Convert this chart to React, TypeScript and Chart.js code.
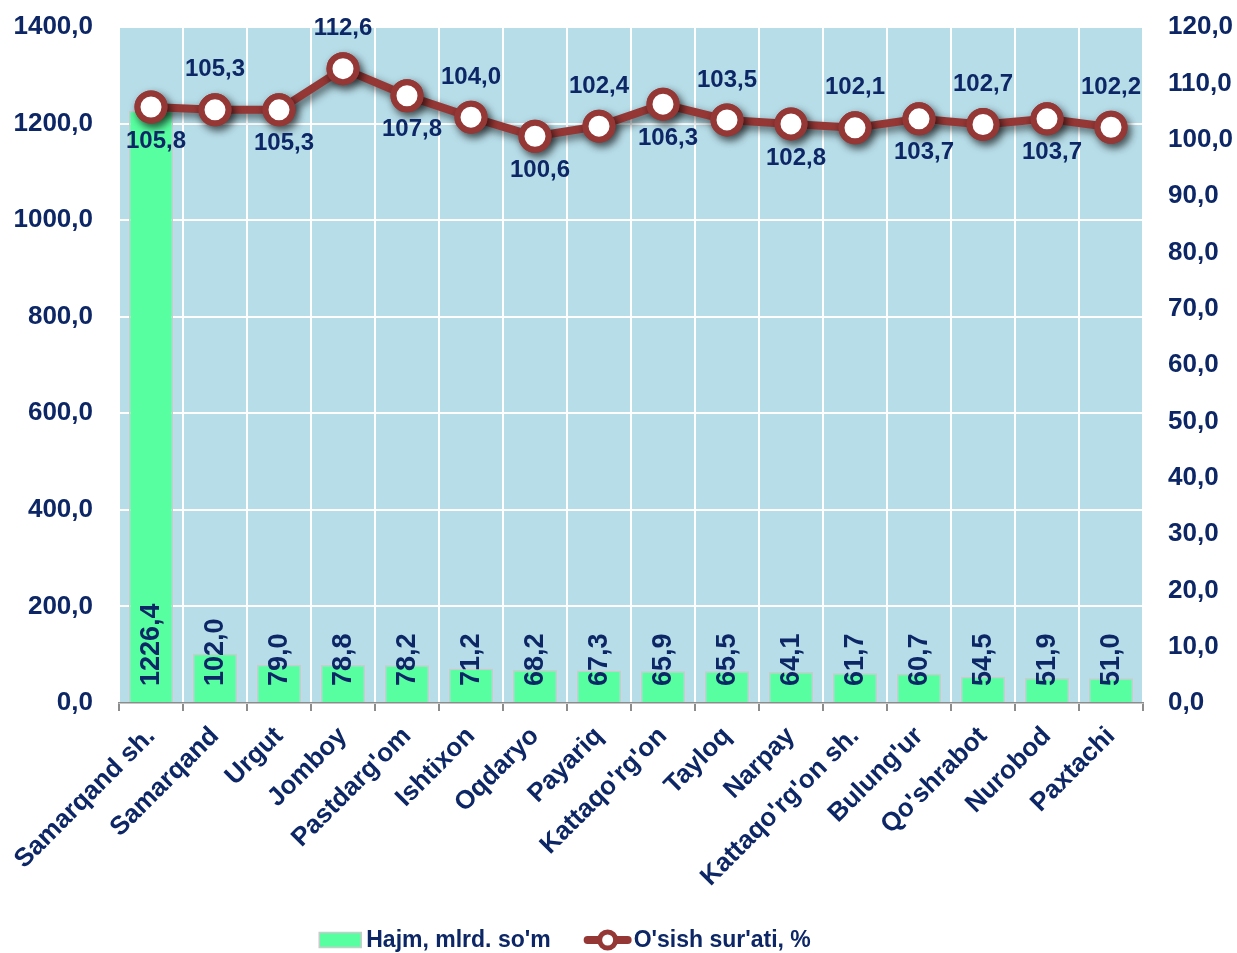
import React, { useEffect, useRef } from "react";
import { Chart, registerables } from "chart.js";

Chart.register(...registerables);

const categories = [
  "Samarqand sh.", "Samarqand", "Urgut", "Jomboy", "Pastdarg'om", "Ishtixon", "Oqdaryo",
  "Payariq", "Kattaqo'rg'on", "Tayloq", "Narpay", "Kattaqo'rg'on sh.", "Bulung'ur",
  "Qo'shrabot", "Nurobod", "Paxtachi",
];
const volumeValues = [1226.4, 102.0, 79.0, 78.8, 78.2, 71.2, 68.2, 67.3, 65.9, 65.5, 64.1, 61.7, 60.7, 54.5, 51.9, 51.0];
const growthValues = [105.8, 105.3, 105.3, 112.6, 107.8, 104.0, 100.6, 102.4, 106.3, 103.5, 102.8, 102.1, 103.7, 102.7, 103.7, 102.2];
const volumeLabel = "Hajm, mlrd. so'm";
const growthLabel = "O'sish sur'ati, %";

const FONT = "'Liberation Sans', Arial, sans-serif";
const TEXT = "#0d2766";
const BAR = "#57ffa0";
const BAR_BORDER = "#c9cccc";
const LINE = "#953735";
const PLOT_BG = "#b7dde8";

const fmt = (v: number) => v.toFixed(1).replace(".", ",");

const bgPlugin = {
  id: "plotBg",
  beforeDraw(chart: any) {
    const { ctx, chartArea } = chart;
    ctx.save();
    ctx.fillStyle = "#ffffff";
    ctx.fillRect(0, 0, chart.width, chart.height);
    ctx.fillStyle = PLOT_BG;
    ctx.fillRect(chartArea.left, chartArea.top, chartArea.right - chartArea.left, chartArea.bottom - chartArea.top);
    ctx.restore();
  },
};

const shadowPlugin = {
  id: "lineShadow",
  beforeDatasetDraw(chart: any, args: any) {
    if (chart.data.datasets[args.index].type === "line") {
      const ctx = chart.ctx;
      ctx.save();
      ctx.shadowColor = "rgba(0,0,0,0.6)";
      ctx.shadowBlur = 9;
      ctx.shadowOffsetX = 3;
      ctx.shadowOffsetY = 4;
    }
  },
  afterDatasetDraw(chart: any, args: any) {
    if (chart.data.datasets[args.index].type === "line") {
      const ctx = chart.ctx;
      ctx.restore();
      args.meta.data.forEach((el: any) => el.draw(ctx, chart.chartArea));
    }
  },
};

const labelPlugin = {
  id: "valueLabels",
  afterDatasetsDraw(chart: any) {
    const ctx = chart.ctx;
    const yBase = chart.scales.y.getPixelForValue(0);
    const barMeta = chart.getDatasetMeta(1);
    ctx.save();
    ctx.fillStyle = TEXT;
    ctx.font = `bold 27px ${FONT}`;
    ctx.textBaseline = "middle";
    ctx.textAlign = "left";
    barMeta.data.forEach((el: any, i: number) => {
      ctx.save();
      ctx.translate(el.x, yBase - 17);
      ctx.rotate(-Math.PI / 2);
      ctx.fillText(fmt(volumeValues[i]), 0, 1);
      ctx.restore();
    });
    const lineMeta = chart.getDatasetMeta(0);
    ctx.font = `bold 24px ${FONT}`;
    ctx.textAlign = "center";
    lineMeta.data.forEach((el: any, i: number) => {
      const below = i % 2 === 0;
      ctx.fillText(fmt(growthValues[i]), el.x + (below ? 5 : 0), el.y + (below ? 34 : -40));
    });
    ctx.restore();
  },
};

const legendPlugin = {
  id: "customLegend",
  afterDraw(chart: any) {
    const ctx = chart.ctx;
    ctx.save();
    ctx.font = `bold 23px ${FONT}`;
    ctx.textBaseline = "middle";
    ctx.textAlign = "left";
    const boxW = 42, boxH = 15, gap1 = 5, symW = 48, gapItems = 33;
    const w1 = ctx.measureText(volumeLabel).width;
    const w2 = ctx.measureText(growthLabel).width;
    const total = boxW + gap1 + w1 + gapItems + symW + 2 + w2;
    let x = chart.chartArea.left + (chart.chartArea.right - chart.chartArea.left) / 2 - 66 - total / 2;
    const cy = 940;
    ctx.fillStyle = BAR;
    ctx.fillRect(x, cy - boxH / 2, boxW, boxH);
    ctx.strokeStyle = BAR_BORDER;
    ctx.lineWidth = 1.5;
    ctx.strokeRect(x, cy - boxH / 2, boxW, boxH);
    x += boxW + gap1;
    ctx.fillStyle = TEXT;
    ctx.fillText(volumeLabel, x, cy + 1);
    x += w1 + gapItems;
    ctx.strokeStyle = LINE;
    ctx.lineWidth = 8;
    ctx.lineCap = "round";
    ctx.beginPath();
    ctx.moveTo(x + 4, cy);
    ctx.lineTo(x + symW - 4, cy);
    ctx.stroke();
    ctx.beginPath();
    ctx.arc(x + symW / 2, cy, 8, 0, Math.PI * 2);
    ctx.fillStyle = "#ffffff";
    ctx.fill();
    ctx.lineWidth = 5;
    ctx.stroke();
    x += symW + 2;
    ctx.fillStyle = TEXT;
    ctx.fillText(growthLabel, x, cy + 1);
    ctx.restore();
  },
};

export default function App() {
  const ref = useRef<HTMLCanvasElement | null>(null);
  useEffect(() => {
    document.body.style.margin = "0";
    const canvas = ref.current!;
    const chart = new Chart(canvas, {
      type: "bar",
      data: {
        labels: categories,
        datasets: [
          {
            type: "line",
            label: growthLabel,
            data: growthValues,
            yAxisID: "y1",
            borderColor: LINE,
            borderWidth: 8,
            pointRadius: 13.5,
            pointBorderWidth: 6,
            pointBackgroundColor: "#ffffff",
            pointBorderColor: LINE,
            tension: 0,
            order: 0,
          } as any,
          {
            type: "bar",
            label: volumeLabel,
            data: volumeValues,
            yAxisID: "y",
            backgroundColor: BAR,
            borderColor: BAR_BORDER,
            borderWidth: 1.5,
            barPercentage: 0.69,
            categoryPercentage: 1,
            order: 1,
          } as any,
        ],
      },
      options: {
        responsive: false,
        animation: false,
        layout: { padding: { top: 27, left: 0, right: 0, bottom: 0 } },
        plugins: { legend: { display: false }, tooltip: { enabled: false } },
        scales: {
          x: {
            grid: {
              color: "#ffffff",
              lineWidth: 2,
              tickColor: "#8c8c8c",
              tickLength: 8,
              offset: true,
            },
            border: { color: "#8c8c8c", width: 1.5 },
            ticks: {
              color: TEXT,
              font: { family: FONT, weight: "bold", size: 26 },
              maxRotation: 45,
              minRotation: 45,
              autoSkip: false,
              padding: 10,
            },
            afterFit(scale: any) {
              scale.height = 250;
            },
          },
          y: {
            position: "left",
            min: 0,
            max: 1400,
            grid: {
              color: "#ffffff",
              lineWidth: 2,
              drawTicks: true,
              tickLength: 26,
              tickColor: "rgba(0,0,0,0)",
            },
            border: { display: false },
            ticks: {
              stepSize: 200,
              color: TEXT,
              padding: 0,
              font: { family: FONT, weight: "bold", size: 26 },
              callback: (v: any) => fmt(Number(v)),
            },
            afterFit(scale: any) {
              scale.width = 119;
            },
          },
          y1: {
            position: "right",
            min: 0,
            max: 120,
            grid: {
              display: true,
              drawOnChartArea: false,
              drawTicks: true,
              tickLength: 25,
              tickColor: "rgba(0,0,0,0)",
            },
            border: { display: false },
            ticks: {
              stepSize: 10,
              color: TEXT,
              padding: 0,
              font: { family: FONT, weight: "bold", size: 26 },
              callback: (v: any) => fmt(Number(v)),
            },
            afterFit(scale: any) {
              scale.width = 94;
            },
          },
        },
      },
      plugins: [bgPlugin, shadowPlugin, labelPlugin, legendPlugin],
    });
    return () => chart.destroy();
  }, []);
  return (
    <canvas
      ref={ref}
      width={1237}
      height={953}
      style={{ display: "block", position: "absolute", left: 0, top: 0 }}
    />
  );
}
